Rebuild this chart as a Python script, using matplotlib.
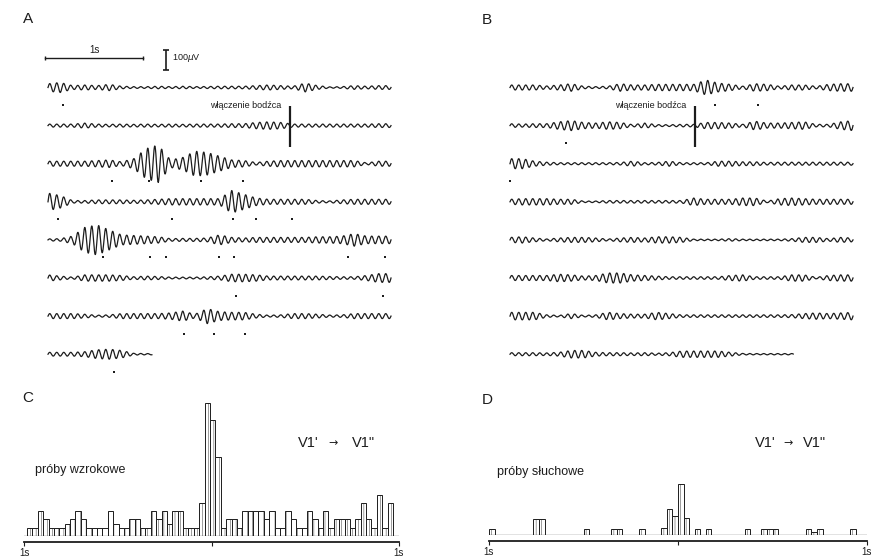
import numpy as np
import matplotlib
matplotlib.use("Agg")
import matplotlib.pyplot as plt

plt.rcParams['font.family'] = ['Liberation Sans', 'DejaVu Sans']
plt.rcParams['hatch.linewidth'] = 0.3

W, H = 877, 560  # output size in px

# EEG sweeps: half-amplitude envelope (in px of the scan, 1 px = 5 uV),
# read every 0.125 s along each sweep
step = 0.125
uv_per_px = 5.0
carrier_hz = 14.0

a_env = [
    [3, 4, 1.5, 2, 1.5, 2.5, 1, 0.7, 0.7, 1, 0.7, 1, 0.7, 0.8, 1, 1, 1, 1.5, 2, 1.5, 1, 3.5, 1.5, 0.5, 0.7, 1.5, 1, 1.5, 1.5],
    [1.2, 1.2, 1.2, 2, 1.2, 1, 1.2, 1, 1.2, 1, 1.2, 1, 1.2, 1.2, 1.2, 1.5, 1.5, 2.5, 3, 2.5, 1.2, 1.2, 1.2, 1.2, 1.2, 1.2, 1.2, 1.5, 1.5],
    [2, 2, 2, 2, 2.5, 3, 1.5, 4, 12, 15, 3, 5, 10, 9, 6, 3, 2.5, 1, 2, 2.5, 2.5, 2.5, 2.5, 2.5, 2.5, 2.5, 0.7, 2, 2],
    [7, 5, 1, 1, 1.5, 1.5, 1.5, 1.2, 1.5, 2, 2.5, 2.5, 2.5, 2.5, 2.5, 9, 6, 3, 2, 2, 2, 2, 1, 0.7, 1.5, 2, 2, 2, 2],
    [0.8, 1, 3, 10, 12, 8, 4, 3.5, 3, 2.5, 1, 1.2, 1.2, 1.5, 4, 2, 1.5, 2, 2, 2, 2, 2, 2.5, 2.5, 3, 5, 3, 3, 3],
    [2.5, 1.5, 0.7, 2.5, 2.5, 2.5, 2, 1, 1.5, 1.2, 0.7, 0.7, 0.7, 1, 1.5, 3, 3, 2.5, 1.5, 1.5, 1.5, 1.5, 1.5, 1.2, 1, 1, 2, 3.5, 3.5],
    [2, 2, 2, 1.5, 0.7, 1, 2, 2, 2, 2, 2.5, 4, 1.5, 6, 3.5, 3, 3, 1.5, 0.7, 1, 2, 2, 1.5, 0.8, 1, 2, 2, 2, 2],
    [1.5, 1.5, 1.5, 2, 3.5, 4, 3, 0.7, 0.5],
]
a_len = [3.5, 3.5, 3.5, 3.5, 3.5, 3.5, 3.5, 1.06]
a_spikes = [
    [0.15],
    [],
    [0.65, 1.03, 1.56, 1.99],
    [0.10, 1.27, 1.89, 2.12, 2.49],
    [0.56, 1.04, 1.20, 1.75, 1.90, 3.06, 3.44],
    [1.92, 3.42],
    [1.39, 1.69, 2.01],
    [0.67],
]

b_env = [
    [2, 2, 2, 1.2, 2, 3, 1, 0.7, 1, 3, 2, 2, 2.5, 2.5, 2.5, 2.5, 6, 3.5, 2.5, 1, 3, 2.5, 1, 2, 2, 1, 2.5, 3, 3],
    [1.5, 1.2, 1.5, 1.5, 3, 4, 2.5, 2, 3, 2.5, 0.8, 2, 0.8, 0.7, 1, 1, 2.5, 2.5, 2, 1, 3.5, 2, 2, 2.5, 3, 1, 1, 3, 4],
    [4, 4, 2, 1.2, 0.8, 0.8, 0.8, 0.8, 0.8, 1, 2, 0.8, 1, 2, 0.8, 0.8, 0.8, 2, 2, 1.5, 1.5, 1, 1.2, 1.2, 1.2, 1.2, 1.2, 1.2, 1.2],
    [2, 2.5, 2.5, 2.5, 2, 2, 0.6, 0.6, 1, 1, 1, 1, 1, 1, 1, 3, 2, 2, 2, 3, 3, 0.6, 2.5, 3, 2.5, 2, 2, 2, 2],
    [2, 2.5, 1.5, 0.7, 1.5, 2, 2, 1.5, 0.7, 1.5, 2, 1.5, 2.5, 2.5, 2, 0.6, 0.6, 0.6, 1, 0.6, 0.6, 0.6, 0.6, 1, 2, 2, 1, 2, 1.5],
    [2, 2, 2, 2, 3, 2.5, 1.5, 2, 4, 4, 2.5, 2, 1.5, 1, 1, 1, 1, 1, 2, 2.5, 1, 1, 1, 2.5, 2.5, 0.6, 2, 2.5, 2.5],
    [3, 3, 3, 1, 0.6, 2, 0.6, 1, 3, 2, 1.5, 1.5, 3, 2, 1, 1, 1, 1, 1, 1, 1, 1, 1, 1.2, 2, 2.5, 2, 2.5, 3],
    [1.2, 1.2, 1.2, 1, 1.5, 3, 3, 1.5, 1.2, 1.2, 1, 1.2, 0.8, 1.2, 2.5, 2.5, 2.5, 2.5, 1.5, 0.6, 0.5, 0.5, 0.5, 0.5],
]
b_len = [3.5, 3.5, 3.5, 3.5, 3.5, 3.5, 3.5, 2.89]
b_spikes = [
    [2.09, 2.53],
    [0.57],
    [0.0],
    [], [], [], [], [],
]

# stimulus onset: (sweep index, time in s)
a_stim = (1, 2.47)
b_stim = (1, 1.89)
stim_label = "włączenie bodźca"

# cross-correlation histograms, counts per bin
c_counts = [2, 2, 6, 4, 2, 2, 2, 3, 4, 6, 4, 2, 2, 2, 2, 6, 3, 2, 2, 4, 4, 2, 2, 6, 4, 6, 3, 6, 6, 2, 2, 2, 8,
            32,
            28, 19, 2, 4, 4, 2, 6, 6, 6, 6, 4, 6, 2, 2, 6, 4, 2, 2, 6, 4, 2, 6, 2, 4, 4, 4, 2, 4, 8, 4, 2, 10, 2, 8]
c_range = (-0.984, 0.968)
d_counts = [1.5, 0, 0, 0, 0, 0, 0, 0, 4, 4,
            0, 0, 0, 0, 0, 0, 0, 1.5, 0, 0,
            0, 0, 1.5, 1.5, 0, 0, 0, 1.5, 0, 0,
            0, 1.7, 6.2, 4.5, 12.5, 4.2, 0, 1.5, 0, 1.5,
            0, 0, 0, 0, 0, 0, 1.5, 0, 0, 1.5,
            1.5, 1.5, 0, 0, 0, 0, 0, 1.5, 0.8, 1.5,
            0, 0, 0, 0, 0, 1.5, 0, 0]
d_range = (-1.0, 1.0)
hist_ticks = [-1, 0, 1]
hist_ticklabels = ['1s', '', '1s']


def fx(px):
    return px / W


def fy(py):
    return 1 - py / H


def px_axes(fig, left, top, right, bottom):
    return fig.add_axes([fx(left), fy(bottom), (right - left) / W, (bottom - top) / H])


fig = plt.figure(figsize=(W / 100, H / 100), dpi=100)
fig.patch.set_facecolor('white')

spacing = 38.1 * uv_per_px  # vertical distance between sweeps in uV
ink = '#1c1c1c'
amp_gain = 1.25


def draw_sweeps(ax, envs, lens, spikes, stim, left_px, right_px, t0_px):
    for i, (env, length) in enumerate(zip(envs, lens)):
        off = -i * spacing
        t = np.linspace(0, length, int(length * 700))
        knots = np.arange(len(env)) * step
        amp = np.interp(t, knots, np.array(env) * uv_per_px * amp_gain)
        ax.plot(t, off + amp * np.sin(2 * np.pi * carrier_hz * t), color=ink, lw=0.9)
        if spikes[i]:
            ax.plot(spikes[i], [off - 17.5 * uv_per_px] * len(spikes[i]), 's',
                    color=ink, ms=1.9, mew=0)
    si, st = stim
    off = -si * spacing
    ax.vlines(st, off - 21 * uv_per_px, off + 20 * uv_per_px, color=ink, lw=1.6)
    ax.text(st - 0.09, off + 20 * uv_per_px, stim_label, fontsize=6.5,
            ha='right', va='center', color=ink)
    ax.set_xlim((left_px - t0_px) / 98, (right_px - t0_px) / 98)
    ax.set_ylim((87.5 - 380) * uv_per_px, (87.5 - 30) * uv_per_px)
    ax.axis('off')


ax_a = px_axes(fig, 40, 30, 400, 380)
draw_sweeps(ax_a, a_env, a_len, a_spikes, a_stim, 40, 400, 48)

# scale bars
bar_y = (87.5 - 58) * uv_per_px
ax_a.plot([-0.03, 0.97], [bar_y, bar_y], color=ink, lw=1.0)
ax_a.vlines([-0.03, 0.97], bar_y - 8, bar_y + 8, color=ink, lw=1.0)
ax_a.text(0.47, bar_y + 8 * uv_per_px, '1s', fontsize=7, ha='center', va='center', color=ink)
ax_a.vlines(1.204, bar_y - 60, bar_y + 40, color=ink, lw=1.2)
ax_a.hlines([bar_y - 60, bar_y + 40], 1.174, 1.234, color=ink, lw=1.2)
ax_a.text(1.27, bar_y, '100$\\mu$V', fontsize=6.5, ha='left', va='center', color=ink)

ax_b = px_axes(fig, 500, 30, 870, 380)
draw_sweeps(ax_b, b_env, b_len, b_spikes, b_stim, 500, 870, 510)


def draw_hist(ax, counts, rng):
    edges = np.linspace(rng[0], rng[1], len(counts) + 1)
    ax.bar(edges[:-1], counts, width=edges[1] - edges[0], align='edge',
           facecolor='white', edgecolor=ink, linewidth=0.7, hatch='|||')
    ax.axhline(0, color=ink, lw=0.9)
    ax.set_xlim(-1, 1)
    ax.set_ylim(0, 34)
    for s in ['left', 'right', 'top']:
        ax.spines[s].set_visible(False)
    ax.spines['bottom'].set_position(('outward', 4.3))
    ax.spines['bottom'].set_linewidth(1.3)
    ax.spines['bottom'].set_color(ink)
    ax.set_yticks([])
    ax.set_xticks(hist_ticks)
    ax.set_xticklabels(hist_ticklabels)
    ax.tick_params(axis='x', direction='out', length=3, width=0.8, pad=1.5,
                   labelsize=7, colors=ink)
    ax.patch.set_alpha(0)


ax_c = px_axes(fig, 24, 395, 399, 536)
draw_hist(ax_c, c_counts, c_range)
ax_d = px_axes(fig, 489, 395, 867, 535)
draw_hist(ax_d, d_counts, d_range)

# panel letters and labels
for letter, x, y in [('A', 23, 12), ('B', 482, 13), ('C', 22, 391), ('D', 482, 393)]:
    fig.text(fx(x), fy(y), letter, fontsize=11, ha='left', va='top', color=ink)

fig.text(fx(35), fy(470), 'próby wzrokowe', fontsize=9, ha='left', va='center', color=ink)
fig.text(fx(497), fy(472), 'próby słuchowe', fontsize=9, ha='left', va='center', color=ink)


def pathway_label(x_from, x_arrow, x_to, y):
    fig.text(fx(x_from), fy(y), "V1'", fontsize=10.5, ha='left', va='center', color=ink)
    fig.text(fx(x_arrow), fy(y), "\u2192", fontsize=8, ha='left', va='center',
             color=ink, family='DejaVu Sans')
    fig.text(fx(x_to), fy(y), 'V1"', fontsize=10.5, ha='left', va='center', color=ink)


pathway_label(298, 328, 352, 443)
pathway_label(755, 783, 803, 443)

fig.savefig('out.png', dpi=100, facecolor='white')
